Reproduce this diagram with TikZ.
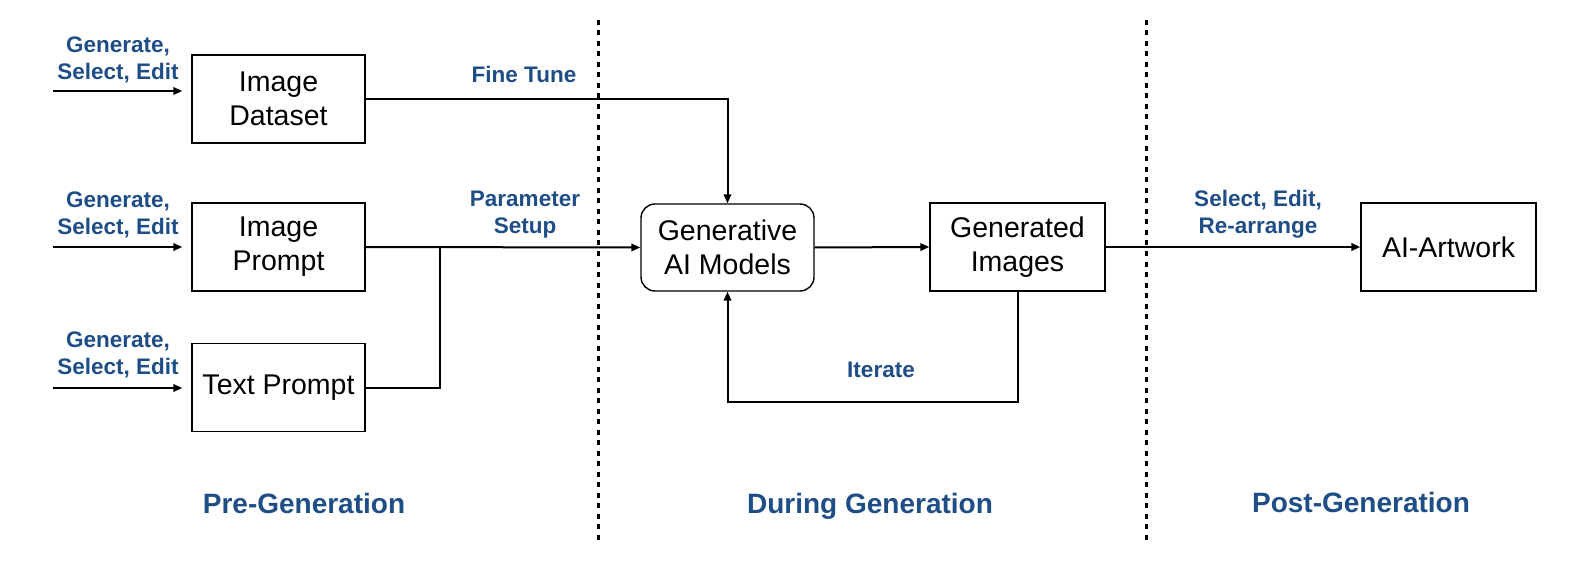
\documentclass[tikz,border=0pt]{standalone}
\usepackage{fontspec}
\setmainfont{Liberation Sans}
\usetikzlibrary{arrows.meta}
\definecolor{lblue}{RGB}{31,78,134}
\tikzset{
  box/.style={draw=black, line width=1.4pt, minimum width=173pt, minimum height=88pt, inner sep=0pt, align=center, font=\fontsize{28.5}{34}\selectfont},
  lbl/.style={text=lblue, align=center, font=\fontsize{22.5}{27}\selectfont\bfseries, inner sep=0pt},
  sec/.style={text=lblue, font=\fontsize{28}{32}\selectfont\bfseries, inner sep=0pt, anchor=base},
  conn/.style={line width=2pt, -{Triangle[length=9pt,width=7.5pt]}},
  plain/.style={line width=2pt},
  sep/.style={line width=3pt, dash pattern=on 5pt off 5.5pt}
}
\begin{document}
\begin{tikzpicture}[x=1pt,y=-1pt]
\useasboundingbox (0,0) rectangle (1574,564);
% boxes
\node[box] (ds) at (278.5,99) {Image\\Dataset};
\node[box] (ip) at (278.5,247) {Image\\Prompt};
\node[box] (tp) at (278.5,387.5) {Text Prompt};
\node[box, rounded corners=14pt, minimum height=87pt] (gen) at (727.5,247.5) {Generative\\AI Models};
\node[box, minimum width=175pt] (gd) at (1017.5,247) {Generated\\Images};
\node[box, minimum width=175pt] (ai) at (1448.5,247) {AI-Artwork};
% labels
\node[lbl] (l1) at (118,60) {Generate,\\Select, Edit};
\node[lbl] (l2) at (118,215) {Generate,\\Select, Edit};
\node[lbl] (l3) at (118,355) {Generate,\\Select, Edit};
\node[lbl] (ft) at (524,74) {Fine Tune};
\node[lbl] (ps) at (525,215) {Parameter\\Setup};
\node[lbl] (it) at (881,370) {Iterate};
\node[lbl] (se) at (1258,214.5) {Select, Edit,\\Re-arrange};
\node[sec] (s1) at (304,513) {Pre-Generation};
\node[sec] (s2) at (870,513) {During Generation};
\node[sec] (s3) at (1361,512) {Post-Generation};
% free ends
\coordinate (a1) at (53,91);
\coordinate (a2) at (53,247);
\coordinate (a3) at (53,388);
\coordinate (jn) at (440,247);
\coordinate (lp) at (0,402);
\coordinate (d1t) at (598,20);
\coordinate (d1b) at (598,543);
\coordinate (d2t) at (1146,20);
\coordinate (d2b) at (1146,543);
% connectors
\draw[conn, shorten >=9pt] (a1) -- (a1 -| ds.west);
\draw[conn, shorten >=9pt] (a2) -- (a2 -| ip.west);
\draw[conn, shorten >=9pt] (a3) -- (a3 -| tp.west);
\draw[conn] (ds.east) -| (gen.north);
\draw[conn] (ip.east) -- (gen.west);
\draw[plain] (tp.east) -| (jn);
\draw[conn] (gen.east) -- (gd.west);
\draw[conn] (gd.south) -- (gd.south |- lp) -| (gen.south);
\draw[conn] (gd.east) -- (ai.west);
% separators
\draw[sep] (d1t) -- (d1b);
\draw[sep] (d2t) -- (d2b);
\end{tikzpicture}
\end{document}
